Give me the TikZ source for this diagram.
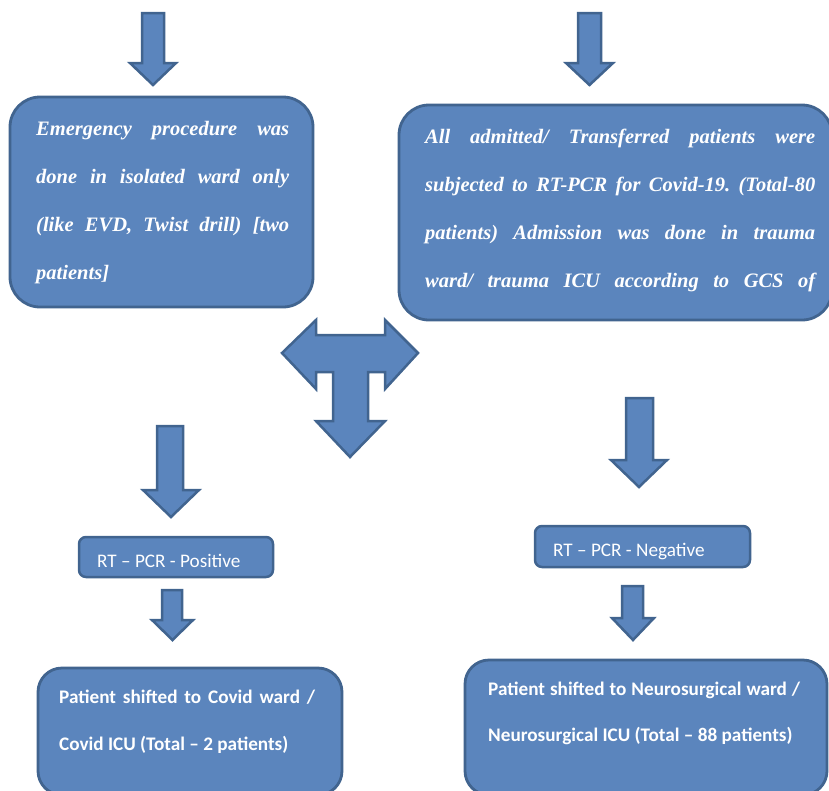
\documentclass[tikz,border=0pt]{standalone}
\usepackage{fontspec}
\setmainfont{Liberation Serif}
\newfontfamily\calibri{Carlito}
\frenchspacing
\definecolor{boxfill}{HTML}{5B85BD}
\definecolor{boxline}{HTML}{41648F}
\newcommand{\blockarrow}[7]{%
  \draw[blockarrow] (#1,#3) -- (#2,#3) -- (#2,#4) -- (#6,#4) -- ({(#5+#6)/2},#7) -- (#5,#4) -- (#1,#4) -- cycle;}
\tikzset{
  blockarrow/.style={fill=boxfill, draw=boxline, line width=2.5pt, line join=miter},
  bigbox/.style={fill=boxfill, draw=boxline, line width=2.8pt, rounded corners=30pt, inner sep=0pt},
  lowbox/.style={fill=boxfill, draw=boxline, line width=2.8pt, rounded corners=24pt, inner sep=0pt},
  smallbox/.style={fill=boxfill, draw=boxline, line width=2.5pt, rounded corners=7pt, inner sep=0pt},
  serift/.style={anchor=base west, inner sep=0pt, text=white, font=\fontsize{20.5}{48}\selectfont\bfseries\itshape},
  sanst/.style={anchor=base west, inner sep=0pt, text=white, font=\calibri\fontsize{19.2}{23}\selectfont},
  sansbt/.style={anchor=base west, inner sep=0pt, text=white, font=\calibri\bfseries\fontsize{19.2}{23}\selectfont},
}
\begin{document}
\begin{tikzpicture}[x=1pt,y=-1pt]
\useasboundingbox (0,0) rectangle (829,790);
\clip (0,0) rectangle (829,790);

% top arrows
\blockarrow{142}{164}{13}{63}{130}{176}{85}
\blockarrow{578}{601}{13}{63}{566}{613}{85}

% top boxes
\node[bigbox, minimum width=303pt, minimum height=210pt] (tl) at (161.5,202) {};
\node[bigbox, minimum width=433pt, minimum height=215pt] (tr) at (615.5,212.5) {};

\node[serift] (tltext) at (36,135) {\vtop{\baselineskip=48pt\lineskiplimit=-100pt
  \hbox{\makebox[253pt][s]{Emergency procedure was}}
  \hbox{\makebox[253pt][s]{done in isolated ward only}}
  \hbox{\makebox[253pt][s]{(like EVD, Twist drill) [two}}
  \hbox{patients]}}};

\node[serift] (trtext) at (425,143) {\vtop{\baselineskip=48pt\lineskiplimit=-100pt
  \hbox{\makebox[390pt][s]{All admitted/ Transferred patients were}}
  \hbox{\makebox[390pt][s]{subjected to RT-PCR for Covid-19. (Total-80}}
  \hbox{\makebox[390pt][s]{patients) Admission was done in trauma}}
  \hbox{\makebox[390pt][s]{ward/ trauma ICU according to GCS of}}}};

% T-shaped arrow
\draw[blockarrow] (282,353) -- (316,320) -- (316,335) -- (385,335) -- (385,320) -- (418,353)
  -- (385,389) -- (385,372) -- (368,372) -- (368,421) -- (385,421) -- (350,457)
  -- (316,421) -- (333,421) -- (333,372) -- (316,372) -- (316,389) -- cycle;

% middle arrows
\blockarrow{157}{183}{426}{490}{143}{199}{517}
\blockarrow{626}{653}{398}{460}{611}{667}{487}

% small boxes
\node[smallbox, minimum width=194pt, minimum height=40pt] (sl) at (176,557) {};
\node[smallbox, minimum width=215pt, minimum height=41pt] (sr) at (642.5,546.5) {};
\node[sanst] (sltext) at (97,567) {RT – PCR - Positive};
\node[sanst] (srtext) at (553,556) {RT – PCR - Negative};

% lower arrows
\blockarrow{162}{182}{590}{620}{152}{193}{640}
\blockarrow{622}{643}{586}{618}{612}{654}{640}

% bottom boxes
\node[lowbox, minimum width=304pt, minimum height=127pt] (bl) at (190,731.5) {};
\node[lowbox, minimum width=362pt, minimum height=135pt] (br) at (646,727.5) {};

\node[sansbt] (bltext) at (59,703) {\vtop{\baselineskip=47pt\lineskiplimit=-100pt
  \hbox{\makebox[256pt][s]{Patient shifted to Covid ward /}}
  \hbox{Covid ICU (Total – 2 patients)}}};
\node[sansbt] (brtext) at (488,695) {\vtop{\baselineskip=46pt\lineskiplimit=-100pt
  \hbox{\makebox[312pt][s]{Patient shifted to Neurosurgical ward /}}
  \hbox{Neurosurgical ICU (Total – 88 patients)}}};
\end{tikzpicture}
\end{document}
